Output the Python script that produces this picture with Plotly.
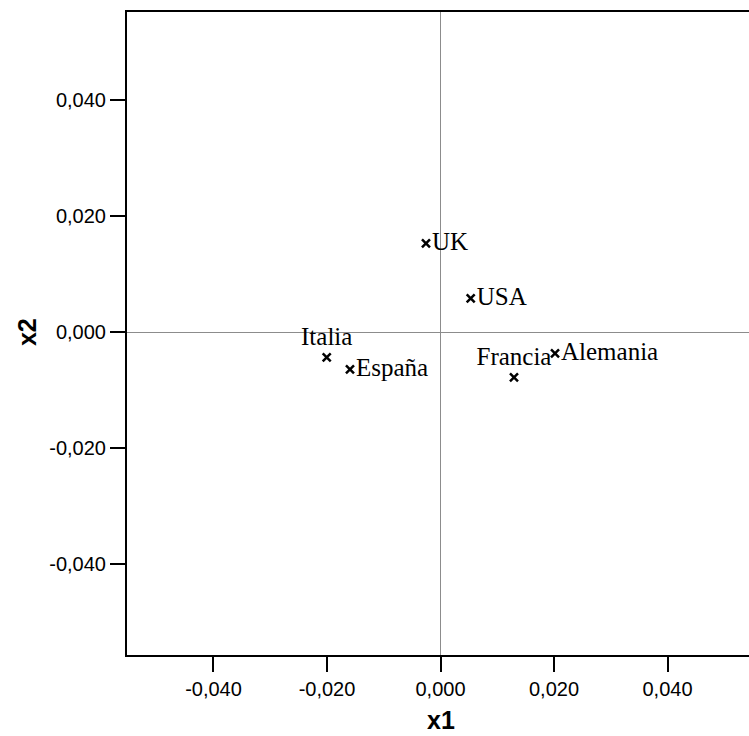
import plotly.graph_objects as go

# Object scores on the two dimensions
countries = ["UK", "USA", "Italia", "España", "Francia", "Alemania"]
x1 = [-0.00256, 0.00532, -0.02005, -0.01595, 0.01295, 0.02018]
x2 = [0.01529, 0.00581, -0.00436, -0.00643, -0.00781, -0.00367]
label_pos = ["middle right", "middle right", "top center",
             "middle right", "top center", "middle right"]

# Tick values and their labels (comma decimal, plain hyphen)
x_ticks = [-0.04, -0.02, 0.0, 0.02, 0.04]
x_ticktext = ["-0,040", "-0,020", "0,000", "0,020", "0,040"]
y_ticks = [-0.04, -0.02, 0.0, 0.02, 0.04]
y_ticktext = ["-0,040", "-0,020", "0,000", "0,020", "0,040"]

W, H = 749, 736
ML, MR, MT, MB = 127, 0, 12, 81

fig = go.Figure()
fig.add_trace(go.Scatter(
    x=x1, y=x2, mode="markers+text",
    text=countries, textposition=label_pos,
    textfont=dict(family="Liberation Serif, Times New Roman, serif", size=25, color="black"),
    marker=dict(symbol="x-thin", size=8, color="black",
                line=dict(color="black", width=2.5)),
    cliponaxis=False, hoverinfo="skip", showlegend=False,
))

axis_common = dict(
    showgrid=False,
    zeroline=True, zerolinecolor="#8c8c8c", zerolinewidth=1,
    showline=True, linecolor="black", linewidth=2,
    ticks="outside", ticklen=15, tickwidth=2, tickcolor="black",
    tickfont=dict(family="Liberation Sans, Arial, sans-serif", size=20, color="black"),
)

fig.update_layout(
    width=W, height=H,
    margin=dict(l=ML, r=MR, t=MT, b=MB, pad=0),
    paper_bgcolor="white", plot_bgcolor="white",
    xaxis=dict(range=[-0.05524, 0.05436], tickvals=x_ticks, ticktext=x_ticktext,
               mirror=True, **axis_common),
    yaxis=dict(range=[-0.0557, 0.0552], tickvals=y_ticks, ticktext=y_ticktext,
               mirror=False, **axis_common),
    annotations=[
        dict(text="<b>x1</b>", x=0, xref="x", y=0, yref="paper",
             yshift=-65, xanchor="center", yanchor="middle", showarrow=False,
             font=dict(family="Liberation Sans, Arial, sans-serif", size=25, color="black")),
        dict(text="<b>x2</b>", x=0, xref="paper", y=0, yref="y",
             xshift=-100, xanchor="center", yanchor="middle", showarrow=False,
             textangle=-90,
             font=dict(family="Liberation Sans, Arial, sans-serif", size=25, color="black")),
    ],
)

fig.write_html("out.html")
